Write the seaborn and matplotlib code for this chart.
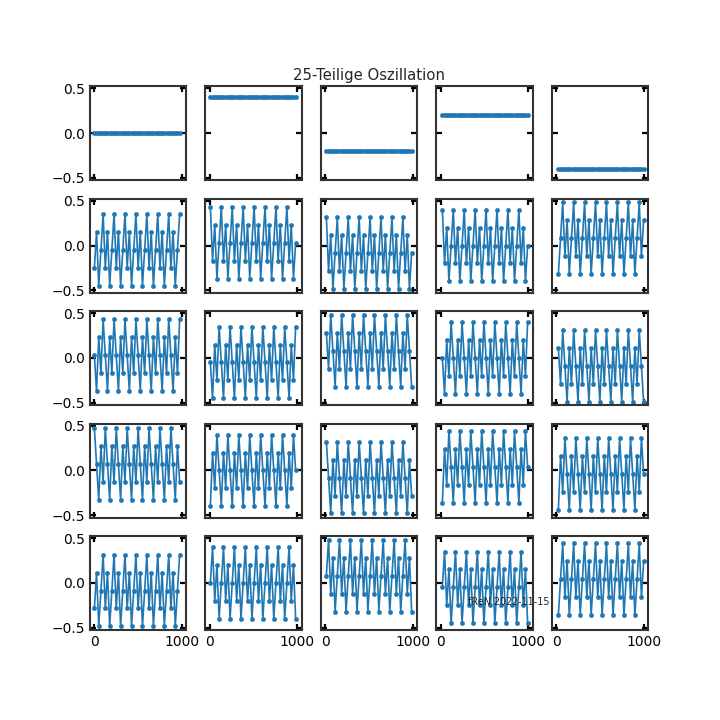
import numpy as np
import pandas as pd
import matplotlib
matplotlib.use("Agg")
import matplotlib.pyplot as plt
import seaborn as sns

# ---- data ----
# each subplot repeats a 5-sample cycle 8 times (40 samples, step 25)
cycles_row0 = [[0.00] * 5, [0.40] * 5, [-0.20] * 5, [0.20] * 5, [-0.40] * 5]
cycles_row1 = [[-0.25, 0.15, -0.45, -0.05, 0.35],
               [0.43, -0.17, 0.23, -0.37, 0.03],
               [0.315, -0.285, 0.115, -0.485, -0.085],
               [0.40, -0.20, 0.20, -0.40, 0.00],
               [-0.32, 0.08, 0.48, -0.12, 0.28]]
cycles_row2 = [[0.03, -0.37, 0.23, -0.17, 0.43],
               [-0.05, -0.45, 0.15, -0.25, 0.35],
               [0.28, -0.12, 0.48, 0.08, -0.32],
               [0.00, -0.40, 0.20, -0.20, 0.40],
               [0.11, -0.29, 0.31, -0.09, -0.49]]
cycles_row3 = [[0.47, 0.07, -0.33, 0.27, -0.13],
               [-0.40, 0.20, -0.20, 0.40, 0.00],
               [0.32, -0.08, -0.48, 0.12, -0.28],
               [-0.36, 0.24, -0.16, 0.44, 0.04],
               [-0.44, 0.16, -0.24, 0.36, -0.04]]
cycles_row4 = [[-0.285, 0.115, -0.485, -0.085, 0.315],
               [0.00, 0.40, -0.20, 0.20, -0.40],
               [0.08, 0.48, -0.12, 0.28, -0.32],
               [-0.05, 0.35, -0.25, 0.15, -0.45],
               [-0.36, 0.04, 0.44, -0.16, 0.24]]
all_cycles = [cycles_row0, cycles_row1, cycles_row2, cycles_row3, cycles_row4]

x_start_by_col = [0.0, 6.25, 12.5, 18.75, 25.0]
x_step = 25.0
n_samples = 40
n_repeats = 8

title_text = "25-Teilige Oszillation"
note_text = "fReN 2022-11-15"
x_ticks = [0, 1000]
y_ticks = [-0.5, 0.0, 0.5]

# ---- drawing ----
sns.set_style("white")
plt.rcParams["font.family"] = ["DejaVu Sans"]

fig, axes = plt.subplots(5, 5, sharex=True, sharey=True, figsize=(7.2, 7.2), dpi=100)
fig.subplots_adjust(left=0.125, right=0.9, top=0.88, bottom=0.125,
                    wspace=0.2, hspace=0.2)
color = "#1f77b4"
for r in range(5):
    for c in range(5):
        ax = axes[r][c]
        x = x_start_by_col[c] + x_step * np.arange(n_samples)
        y = np.tile(all_cycles[r][c], n_repeats)
        df = pd.DataFrame({"x": x, "y": y})
        sns.lineplot(data=df, x="x", y="y", ax=ax, color=color, marker="o",
                     markersize=3.0, markeredgecolor=color, markeredgewidth=0.4,
                     linewidth=1.2)
        ax.set_xlabel("")
        ax.set_ylabel("")
        for sp in ax.spines.values():
            sp.set_visible(True)
            sp.set_color("#333333")
            sp.set_linewidth(1.5)
        ax.tick_params(direction="in", bottom=True, left=True, top=True, right=True,
                       length=4, width=1.6, color="black", labelsize=10,
                       labelcolor="black")

axes[0][0].set_xticks(x_ticks)
axes[0][0].set_yticks(y_ticks)
axes[0][0].set_xlim(-50, 1050)
axes[0][0].set_ylim(-0.525, 0.52)
axes[0][2].set_title(title_text, fontsize=10.7, pad=4.5)
fig.text(0.65, 0.16, note_text, fontsize="x-small")

fig.savefig("out.png", dpi=100)
